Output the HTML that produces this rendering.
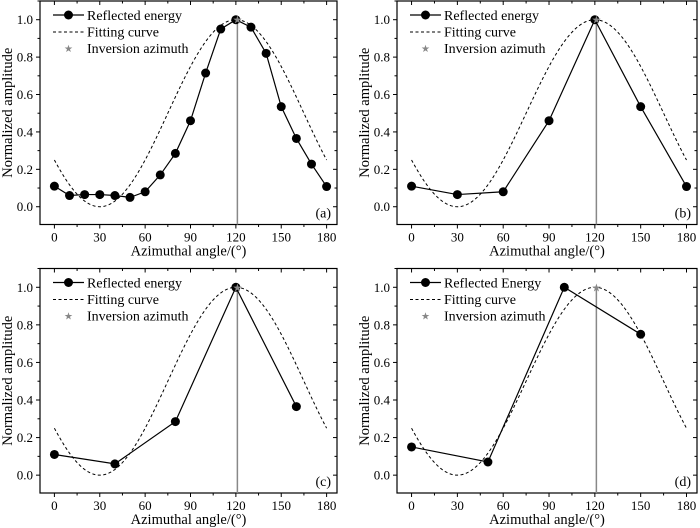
<!DOCTYPE html>
<html><head><meta charset="utf-8"><style>
html,body{margin:0;padding:0;background:#fff;}
svg{display:block;}
svg text{font-family:"Liberation Serif","Times New Roman",Times,"DejaVu Serif",serif;}
svg text.star{font-family:"DejaVu Sans",sans-serif;}
</style></head><body>
<svg id="chart" width="700" height="528"></svg>
<script>
const xTicks=[0,30,60,90,120,150,180];
const yTicks=[0.0,0.2,0.4,0.6,0.8,1.0];
const xA=[0,10,20,30,40,50,60,70,80,90,100,110,120,130,140,150,160,170,180];
const yA=[0.11,0.06,0.065,0.065,0.06,0.05,0.08,0.17,0.285,0.46,0.715,0.95,1.0,0.96,0.82,0.535,0.365,0.228,0.108];
const xB=[0,30,60,90,120,150,180];
const yB=[0.11,0.065,0.08,0.46,1.0,0.535,0.108];
const xC=[0,40,80,120,160];
const yC=[0.11,0.06,0.285,1.0,0.365];
const xD=[0,50,100,150];
const yD=[0.15,0.07,1.0,0.75];
const inversionAz=121;
const fitMax=120;
const labels=["(a)","(b)","(c)","(d)"];
const legendNames=["Reflected energy","Reflected energy","Reflected energy","Reflected Energy"];

const NS="http://www.w3.org/2000/svg";
const svg=document.getElementById('chart');
function mk(tag,attrs,parent){const e=document.createElementNS(NS,tag);for(const k in attrs)e.setAttribute(k,attrs[k]);(parent||svg).appendChild(e);return e;}
function fit(x){
  const c=Math.cos((x-fitMax)*Math.PI/90);
  return 0.5+0.5*c;
}
const panels=[
 {L:40,R:337,T:1,B:224.5,xs:xA,ys:yA},
 {L:397,R:697,T:1,B:224.5,xs:xB,ys:yB},
 {L:40,R:337,T:268.5,B:493,xs:xC,ys:yC},
 {L:397,R:697,T:268.5,B:493,xs:xD,ys:yD}
];
panels.forEach((p,i)=>{
  const g=mk('g',{});
  
  
  const w=p.R-p.L;
  const x0=p.L+w*0.0485, x1=p.R-w*0.035;
  const X=v=>x0+(x1-x0)*v/180;
  const ymin=-0.095, ymax=1.1;
  const Y=v=>p.B-(v-ymin)/(ymax-ymin)*(p.B-p.T);
  const fr=mk('rect',{x:p.L,y:p.T,width:w,height:p.B-p.T,fill:'none',stroke:'#000','stroke-width':1.2},g);
  
  
  for(let v=0;v<=180;v+=15){
    const major=v%30===0, len=major?4:2.5;
    mk('line',{x1:X(v),x2:X(v),y1:p.B,y2:p.B+len,stroke:'#000','stroke-width':1},g);
    mk('line',{x1:X(v),x2:X(v),y1:p.T,y2:p.T+len,stroke:'#000','stroke-width':1},g);
  }
  xTicks.forEach(v=>{
    const t=mk('text',{x:X(v),y:p.B+17,'text-anchor':'middle','font-size':13},g);
    t.textContent=v;
    
    
  });
  for(let v=-0.1;v<=1.1001;v+=0.1){
    const major=Math.round(v*10)%2===0, len=major?4:2.5;
    const yy=Y(v); if(yy<p.T-0.5||yy>p.B+0.5)continue;
    mk('line',{x1:p.L-len,x2:p.L,y1:yy,y2:yy,stroke:'#000','stroke-width':1},g);
    mk('line',{x1:p.R-len,x2:p.R,y1:yy,y2:yy,stroke:'#000','stroke-width':1},g);
  }
  yTicks.forEach(v=>{
    const t=mk('text',{x:p.L-7,y:Y(v)+4.5,'text-anchor':'end','font-size':13},g);
    t.textContent=v.toFixed(1);
    
    
  });
  const xt=mk('text',{x:(p.L+p.R)/2,y:p.B+31,'text-anchor':'middle','font-size':14.5},g);
  xt.textContent='Azimuthal angle/(°)';
  
  
  const cy=(p.T+p.B)/2;
  const yt=mk('text',{x:0,y:0,'text-anchor':'middle','font-size':14.5,transform:`translate(${p.L-28},${cy}) rotate(-90)`},g);
  yt.textContent='Normalized amplitude';
  
  
  let d='';
  for(let v=0;v<=180;v+=1){d+=(v?'L':'M')+X(v).toFixed(2)+','+Y(fit(v)).toFixed(2);}
  const fc=mk('path',{d:d,fill:'none',stroke:'#000','stroke-width':1,'stroke-dasharray':'3,2.5'},g);
  
  
  const il=mk('line',{x1:X(inversionAz),x2:X(inversionAz),y1:Y(1),y2:p.B,stroke:'#888','stroke-width':1.5},g);
  
  
  const pts=p.xs.map((v,k)=>X(v)+','+Y(p.ys[k])).join(' ');
  const pl=mk('polyline',{points:pts,fill:'none',stroke:'#000','stroke-width':1.2},g);
  
  
  p.xs.forEach((v,k)=>{
    const c=mk('circle',{cx:X(v),cy:Y(p.ys[k]),r:4.5,fill:'#000'},g);
    
    
  });
  const st=mk('text',{x:X(inversionAz),y:Y(1)+4,'text-anchor':'middle','font-size':11,fill:'#888','class':'star'},g);
  st.textContent='★';
  
  
  const lx=p.L+13, ly=p.T+14;
  mk('line',{x1:lx,x2:lx+31,y1:ly,y2:ly,stroke:'#000','stroke-width':1.2},g);
  mk('circle',{cx:lx+15.5,cy:ly,r:4.5,fill:'#000'},g);
  mk('line',{x1:lx,x2:lx+31,y1:ly+17,y2:ly+17,stroke:'#000','stroke-width':1,'stroke-dasharray':'3,2.5'},g);
  const ls=mk('text',{x:lx+15.5,y:ly+37,'text-anchor':'middle','font-size':10,fill:'#888','class':'star'},g);
  ls.textContent='★';
  const names=[legendNames[i],'Fitting curve','Inversion azimuth'];
  names.forEach((n,k)=>{
    const t=mk('text',{x:lx+34,y:ly+5+k*16.5,'font-size':14},g);
    t.textContent=n;
    
    
  });
  const pl2=mk('text',{x:p.R-6,y:p.B-7,'text-anchor':'end','font-size':14},g);
  pl2.textContent=labels[i];
  
  
});
</script>
</body></html>
